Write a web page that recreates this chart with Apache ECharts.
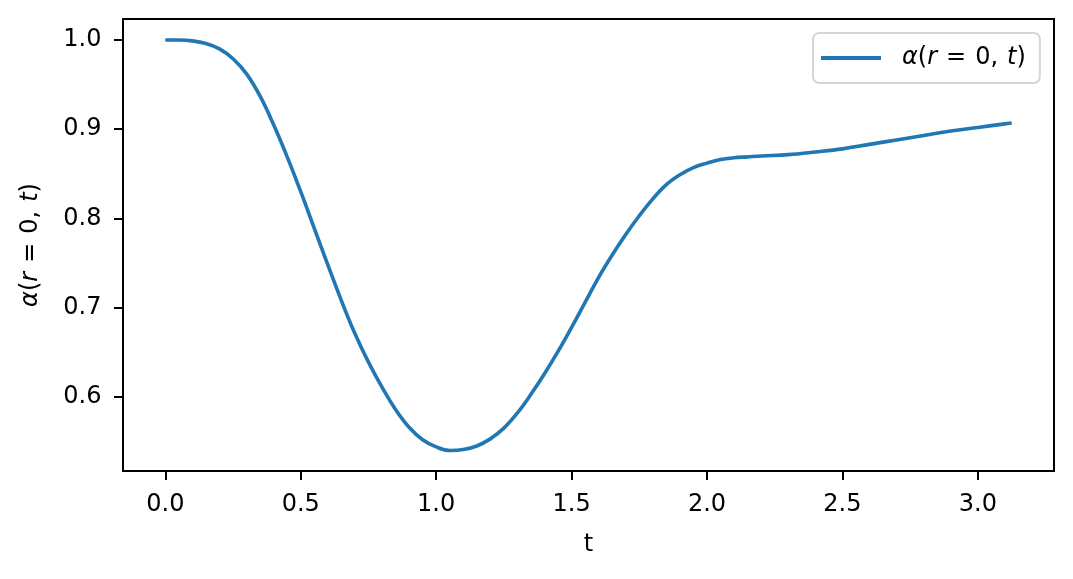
<!DOCTYPE html>
<html>
<head>
<meta charset="utf-8">
<script src="https://cdn.jsdelivr.net/npm/echarts@6/dist/echarts.min.js"></script>
<style>
html,body{margin:0;padding:0;background:#fff;}
#chart{width:1073px;height:579px;}
</style>
</head>
<body>
<div id="chart"></div>
<script>
// Data
const tValues = [0.00,0.05,0.10,0.15,0.20,0.25,0.30,0.35,0.40,0.45,0.50,0.55,0.60,0.65,0.70,0.75,0.80,0.85,0.90,0.95,1.00,1.05,1.10,1.15,1.20,1.25,1.30,1.35,1.40,1.45,1.50,1.55,1.60,1.65,1.70,1.75,1.80,1.85,1.90,1.95,2.00,2.05,2.10,2.15,2.20,2.30,2.40,2.50,2.60,2.70,2.80,2.90,3.00,3.10,3.125];
const alphaValues = [1.000,1.000,0.999,0.996,0.990,0.979,0.962,0.937,0.905,0.869,0.830,0.789,0.748,0.708,0.671,0.639,0.611,0.586,0.566,0.552,0.544,0.540,0.541,0.545,0.553,0.565,0.582,0.603,0.626,0.651,0.678,0.706,0.734,0.759,0.782,0.803,0.822,0.838,0.849,0.857,0.862,0.866,0.868,0.869,0.870,0.8715,0.8745,0.878,0.883,0.888,0.893,0.898,0.902,0.906,0.907];
const xTicks = [0.0,0.5,1.0,1.5,2.0,2.5,3.0];
const yTicks = [0.6,0.7,0.8,0.9,1.0];
const seriesName = 'α(r = 0, t)';

const points = tValues.map((t, i) => [t, alphaValues[i]]);
const FS = 24;
const fontFamily = 'DejaVu Sans';
const mathLabel = '{a|α}{n|(}{i|r}{s|=}{c|0,}{i|t}{n|)}';
const richMath = {
  i: {fontStyle: 'italic', fontSize: FS, fontFamily: fontFamily, color: '#000'},
  a: {fontStyle: 'italic', fontSize: FS, fontFamily: fontFamily, color: '#000', padding: [0,0,0,16]},
  n: {fontSize: FS, fontFamily: fontFamily, color: '#000'},
  s: {fontSize: FS, fontFamily: fontFamily, color: '#000', padding: [0,9,0,9]},
  c: {fontSize: FS, fontFamily: fontFamily, color: '#000', padding: [0,9,0,0]}
};
const richMathY = Object.assign({}, richMath, {
  a: {fontStyle: 'italic', fontSize: FS, fontFamily: fontFamily, color: '#000'}
});

const chart = echarts.init(document.getElementById('chart'), null, {renderer: 'canvas'});
chart.setOption({
  animation: false,
  backgroundColor: '#ffffff',
  grid: {
    left: 123, right: 19, top: 19, bottom: 108,
    show: true, borderColor: '#000', borderWidth: 2, backgroundColor: 'transparent',
    containLabel: false, outerBoundsMode: 'none'
  },
  legend: {
    show: true,
    left: 813, top: 33,
    orient: 'vertical',
    padding: [13, 14, 13, 8],
    itemWidth: 60, itemHeight: 4,
    backgroundColor: '#fff',
    borderColor: '#d6d6d6', borderWidth: 2, borderRadius: 6,
    formatter: function () { return mathLabel; },
    textStyle: {fontSize: FS, fontFamily: fontFamily, color: '#000', rich: richMath},
    data: [{name: seriesName, icon: 'path://M0,0 L60,0 L60,4 L0,4 Z', itemStyle: {color: '#1f77b4'}}]
  },
  xAxis: {
    type: 'value',
    min: -0.15625, max: 3.28125,
    name: 't', nameLocation: 'middle', nameGap: 62,
    nameTextStyle: {fontSize: FS, fontFamily: fontFamily, color: '#000'},
    axisLine: {show: true, onZero: false, lineStyle: {color: '#000', width: 2}},
    axisTick: {show: true, length: 9, lineStyle: {color: '#000', width: 2}, customValues: xTicks},
    axisLabel: {show: true, margin: 22, fontSize: FS, fontFamily: fontFamily, color: '#000',
      customValues: xTicks, formatter: v => v.toFixed(1)},
    splitLine: {show: false}
  },
  yAxis: {
    type: 'value',
    min: 0.517, max: 1.0235,
    name: mathLabel, nameLocation: 'middle', nameGap: 80, nameRotate: 90,
    nameTextStyle: {fontSize: FS, fontFamily: fontFamily, color: '#000', rich: richMathY},
    axisLine: {show: true, onZero: false, lineStyle: {color: '#000', width: 2}},
    axisTick: {show: true, length: 9, lineStyle: {color: '#000', width: 2}, customValues: yTicks},
    axisLabel: {show: true, margin: 21.5, fontSize: FS, fontFamily: fontFamily, color: '#000',
      customValues: yTicks, formatter: v => v.toFixed(1)},
    splitLine: {show: false}
  },
  series: [{
    name: seriesName,
    type: 'line',
    data: points,
    showSymbol: false, symbol: 'none',
    smooth: 0.4,
    lineStyle: {color: '#1f77b4', width: 3.6},
    itemStyle: {color: '#1f77b4'}
  }]
});
</script>
</body>
</html>
